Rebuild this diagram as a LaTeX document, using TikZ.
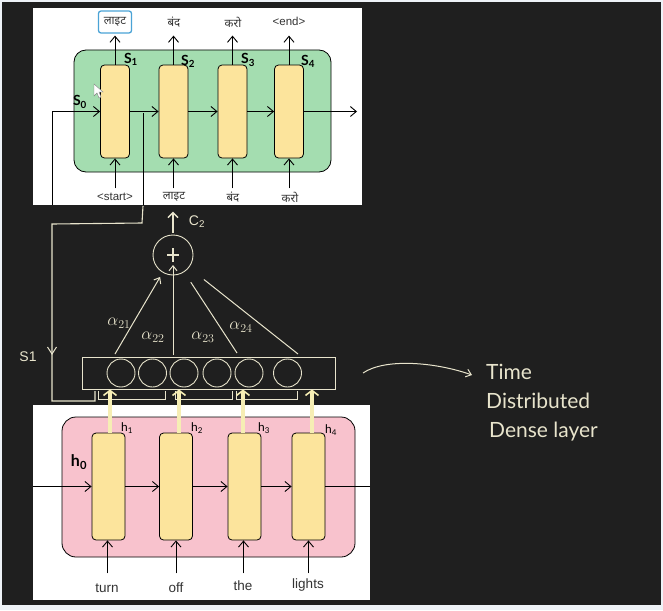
\documentclass[tikz,border=0pt]{standalone}
\usepackage{fontspec}
\setmainfont{Liberation Sans}
\newfontfamily\deva[Script=Devanagari]{Noto Sans}
\newfontfamily\hand{Lato}
\usetikzlibrary{arrows.meta,calc}
\definecolor{edgec}{HTML}{EEF2F7}
\definecolor{bgc}{HTML}{1F1F1F}
\definecolor{chalk}{HTML}{E8E4CC}
\definecolor{cellc}{HTML}{FCE49C}
\definecolor{greenc}{HTML}{A4DDB0}
\definecolor{pinkc}{HTML}{F8C2CD}
\definecolor{linkblue}{HTML}{4AA3D6}
\definecolor{creamy}{HTML}{F6EEB4}
\definecolor{txtc}{HTML}{333333}
\begin{document}
\begin{tikzpicture}[x=1pt,y=-1pt,
  cellbox/.style={draw=black, fill=cellc, rounded corners=4pt, line width=0.8pt, inner sep=0pt},
  arr/.style={draw=black, line width=0.9pt, -{Straight Barb[length=6pt,width=10pt]}},
  chalkline/.style={draw=chalk, line width=1pt},
  chalkarr/.style={draw=chalk, line width=1pt, -{Straight Barb[length=5pt,width=8pt]}},
  yarr/.style={draw=creamy, line width=3.5pt, -{Straight Barb[length=5pt,width=13pt,line width=1.6pt]}},
  toplbl/.style={text=txtc, font=\fontsize{11.5}{13}\selectfont, inner sep=0pt},
  botlbl/.style={text=txtc, font=\fontsize{13.5}{15}\selectfont, inner sep=0pt},
  slbl/.style={text=black, font=\hand\bfseries\fontsize{14}{16}\selectfont, inner sep=0pt},
  hlbl/.style={text=black, font=\hand\fontsize{12}{14}\selectfont, inner sep=0pt},
  alpl/.style={text=chalk, font=\fontsize{17}{19}\selectfont, inner sep=0pt},
  handtxt/.style={text=chalk, font=\hand\fontsize{21}{23}\selectfont, inner sep=0pt, anchor=west},
  unit/.style={draw=chalk, circle, line width=0.9pt, minimum size=28pt, inner sep=0pt}
]
\fill[edgec] (0,0) rectangle (663,610);
\fill[bgc] (2,2) rectangle (661,605);
\useasboundingbox (0,0) rectangle (663,610);

% ================= top (decoder) panel =================
\fill[white] (33,8) rectangle (362,205);
\node[draw=black, fill=greenc, rounded corners=12pt, line width=0.8pt,
      minimum width=257pt, minimum height=122pt, inner sep=0pt] (dec) at (202.5,111) {};
\node[cellbox, minimum width=29pt, minimum height=93pt] (d1) at (115,111.5) {};
\node[cellbox, minimum width=29pt, minimum height=93pt] (d2) at (173.5,111.5) {};
\node[cellbox, minimum width=29pt, minimum height=93pt] (d3) at (232.5,111.5) {};
\node[cellbox, minimum width=29pt, minimum height=93pt] (d4) at (289,111.5) {};

\coordinate (s0in) at (52,205);
\coordinate (c1b) at (143,205);
\coordinate (c1t) at (143,113);
\coordinate (decout) at (357,111.5);
\draw[arr] (s0in) |- (d1.west);
\draw[arr] (d1.east) -- (d2.west);
\draw[arr] (d2.east) -- (d3.west);
\draw[arr] (d3.east) -- (d4.west);
\draw[arr] (d4.east) -- (decout);
\draw[black, line width=0.9pt] (c1b) -- (c1t);

% outputs
\node[toplbl] (o1) at (115,22) {\deva लाइट};
\node[toplbl] (o2) at (174,22) {\deva बंद};
\node[toplbl] (o3) at (233,22) {\deva करो};
\node[toplbl] (o4) at (289,21) {<end>};
\node[draw=linkblue, rounded corners=2.5pt, line width=1.3pt, minimum width=33pt, minimum height=22pt] (sel) at (115,22) {};
\draw[arr] (d1.north) -- ($(d1.north)+(0,-29)$);
\draw[arr] (d2.north) -- ($(d2.north)+(0,-29)$);
\draw[arr] (d3.north) -- ($(d3.north)+(0,-29)$);
\draw[arr] (d4.north) -- ($(d4.north)+(0,-29)$);

% inputs
\node[toplbl] (i1) at (115,197) {<start>};
\node[toplbl] (i2) at (174,197) {\deva लाइट};
\node[toplbl] (i3) at (233,197) {\deva बंद};
\node[toplbl] (i4) at (290,197) {\deva करो};
\draw[arr] ($(d1.south)+(0,30)$) -- (d1.south);
\draw[arr] ($(d2.south)+(0,30)$) -- (d2.south);
\draw[arr] ($(d3.south)+(0,30)$) -- (d3.south);
\draw[arr] ($(d4.south)+(0,30)$) -- (d4.south);

% handwritten state labels
\node[slbl] (ls1) at (131,59) {S\textsubscript{1}};
\node[slbl] (ls2) at (188,61) {S\textsubscript{2}};
\node[slbl] (ls3) at (248,60) {S\textsubscript{3}};
\node[slbl] (ls4) at (308,61) {S\textsubscript{4}};
\node[slbl] (ls0) at (80,102) {S\textsubscript{0}};

% mouse cursor
\draw[fill=white, draw=gray, line width=0.4pt] (94,84) -- (94,96) -- (97,93) -- (99,98) -- (101,97) -- (99,92) -- (103,92) -- cycle;

% ================= attention =================
\node[draw=chalk, circle, line width=0.9pt, minimum size=40pt, inner sep=0pt] (plus) at (173,255) {};
\draw[chalk, line width=2.6pt] ($(plus.center)+(-6,0)$) -- ($(plus.center)+(6,0)$);
\draw[chalk, line width=2.6pt] ($(plus.center)+(0,-7)$) -- ($(plus.center)+(0,7)$);
\draw[draw=chalk, line width=2.8pt, -{Straight Barb[length=5pt,width=10pt,line width=1.5pt]}]
  ($(plus.north)+(0,-2)$) -- ($(plus.north)+(0,-23)$);
\node[alpl, font=\fontsize{14}{16}\selectfont] (c2) at (197,222) {C\textsubscript{2}};

\node[draw=chalk, line width=0.9pt, minimum width=253pt, minimum height=32pt, inner sep=0pt] (dense) at (208.5,373) {};
\node[unit] (u1) at (121,373) {};
\node[unit] (u2) at (152.5,373) {};
\node[unit] (u3) at (184,373) {};
\node[unit] (u4) at (217,373) {};
\node[unit] (u5) at (249,373) {};
\node[unit] (u6) at (287.5,373) {};

\coordinate (a1) at (115,354);
\coordinate (a2) at (173,355);
\coordinate (a3) at (237,353);
\coordinate (a4) at (298,354);
\draw[chalkarr, shorten >=5pt] (a1) -- (plus);
\draw[chalkarr, shorten >=10pt] (a2) -- (plus.center);
\draw[chalkline, shorten >=12pt] (a3) -- (plus);
\draw[chalkline, shorten >=19pt] (a4) -- (plus);
\node[alpl] (al1) at (119,323) {$\alpha_{21}$};
\node[alpl] (al2) at (153,337) {$\alpha_{22}$};
\node[alpl] (al3) at (203,337) {$\alpha_{23}$};
\node[alpl] (al4) at (241,327) {$\alpha_{24}$};

% feedback of S1
\coordinate (fb0) at (143,206);
\coordinate (fb1) at (142,223);
\coordinate (fb2) at (52,224);
\coordinate (fb3) at (52,401);
\coordinate (fb4) at (95,401);
\coordinate (fb5) at (95,391);
\draw[chalkline, line width=1.1pt] (fb0) -- (fb1) -- (fb2) -- (fb3) -- (fb4) -- (fb5);
\draw[chalkline] (47.5,347) -- (52,354) -- (56.5,347);
\node[alpl, font=\fontsize{14}{16}\selectfont] (s1lbl) at (28,357) {S1};
\draw[chalkline] (98,391) -- (98,399) -- (165,399) -- (165,391);
\draw[chalkline] (175,391) -- (175,399) -- (232,399) -- (232,391);
\draw[chalkline] (236,391) -- (236,399) -- (297,399) -- (297,391);

% ================= bottom (encoder) panel =================
\fill[white] (33,405) rectangle (370,600);
\node[draw=black, fill=pinkc, rounded corners=14pt, line width=0.8pt,
      minimum width=293pt, minimum height=140pt, inner sep=0pt] (enc) at (208.5,487) {};
\node[cellbox, minimum width=33pt, minimum height=107pt] (e1) at (108.5,486.5) {};
\node[cellbox, minimum width=33pt, minimum height=107pt] (e2) at (176,486.5) {};
\node[cellbox, minimum width=33pt, minimum height=107pt] (e3) at (244.5,486.5) {};
\node[cellbox, minimum width=33pt, minimum height=107pt] (e4) at (308.5,486.5) {};

\coordinate (h0in) at (33,486.5);
\coordinate (encend) at (370,486.5);
\draw[arr] (h0in) -- (e1.west);
\draw[arr] (e1.east) -- (e2.west);
\draw[arr] (e2.east) -- (e3.west);
\draw[arr] (e3.east) -- (e4.west);
\draw[black, line width=0.9pt] (e4.east) -- (encend);

\node[botlbl] (w1) at (107,588) {turn};
\node[botlbl] (w2) at (176,588) {off};
\node[botlbl] (w3) at (243,586) {the};
\node[botlbl] (w4) at (308,585) {lights};
\draw[arr] ($(e1.south)+(-1,33)$) -- ($(e1.south)+(-1,0)$);
\draw[arr] ($(e2.south)+(0,33)$) -- (e2.south);
\draw[arr] ($(e3.south)+(-1,33)$) -- ($(e3.south)+(-1,0)$);
\draw[arr] ($(e4.south)+(0,33)$) -- (e4.south);

\node[hlbl] (lh1) at (127,428) {h\textsubscript{1}};
\node[hlbl] (lh2) at (197,428) {h\textsubscript{2}};
\node[hlbl] (lh3) at (264,428) {h\textsubscript{3}};
\node[hlbl] (lh4) at (331,430) {h\textsubscript{4}};
\node[slbl, font=\hand\bfseries\fontsize{16}{18}\selectfont] (lh0) at (79,462) {h\textsubscript{0}};

% hidden states to the dense layer
\draw[yarr] ([xshift=1.5pt]e1.north) -- ([xshift=1.5pt]e1.north |- dense.south);
\draw[yarr] ([xshift=3pt]e2.north) -- ([xshift=3pt]e2.north |- dense.south);
\draw[yarr] ([xshift=-1.5pt]e3.north) -- ([xshift=-1.5pt]e3.north |- dense.south);
\draw[yarr] ([xshift=3.5pt]e4.north) -- ([xshift=3.5pt]e4.north |- dense.south);

% ================= annotation =================
\coordinate (annst) at (363,373);
\node[handtxt] (t1) at (486,372) {Time};
\node[handtxt] (t2) at (486,401) {Distributed};
\node[handtxt] (t3) at (489,432) {Dense layer};
\draw[chalkarr] (annst) .. controls (385,358) and (435,362) .. ($(t1.west)+(-14,3)$);
\end{tikzpicture}
\end{document}
